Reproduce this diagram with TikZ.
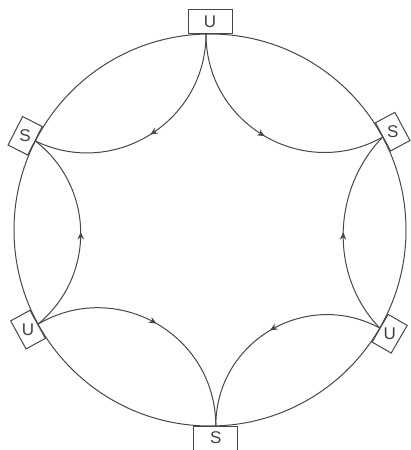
\documentclass[tikz,border=0pt]{standalone}
\usepackage{fontspec}
\setmainfont{Liberation Sans}
\usetikzlibrary{decorations.markings,arrows.meta}
\begin{document}
\begin{tikzpicture}[x=1pt,y=1pt,
  line/.style={draw=black!72,line width=1pt},
  flow/.style={line,postaction={decorate},
    decoration={markings,mark=at position 0.5 with {\arrow{Stealth[length=7.5pt,width=6.5pt]}}}},
  bigbox/.style={draw=black!72,fill=white,line width=1pt,minimum width=44pt,minimum height=24pt,inner sep=0pt,anchor=south},
  smallbox/.style={draw=black!72,fill=white,line width=1pt,minimum width=32pt,minimum height=22pt,inner sep=0pt,anchor=south},
  lbl/.style={font=\fontsize{17}{17}\selectfont,text=black!75,inner sep=0pt}]
\useasboundingbox (0,0) rectangle (411,-450);
\coordinate (O) at (210,-230);
\coordinate (T) at (206,-34);
\coordinate (RS) at (382.6,-137.1);
\coordinate (RU) at (379.7,-328);
\coordinate (B) at (215.8,-425.9);
\coordinate (LU) at (38.1,-324.1);
\coordinate (LS) at (35.4,-141);
\draw[line] (O) circle[radius=196];
% connectors
\draw[flow] (T) to[out=-90,in=-25.8,looseness=1.11] (LS);
\draw[flow] (T) to[out=-90,in=-150.6,looseness=1.13] (RS);
\draw[flow] (LU) to[out=39.7,in=-38,looseness=1.05] (LS);
\draw[flow] (RU) to[out=134,in=-134,looseness=0.975] (RS);
\draw[flow] (LU) to[out=30.4,in=90,looseness=1.137] (B);
\draw[flow] (RU) to[out=151.7,in=90,looseness=1.127] (B);
% boxes
\node[bigbox,xshift=4pt] (bT) at (T) {};
\node[bigbox,rotate=180,minimum height=26pt] (bB) at (B) {};
\node[smallbox,rotate=-61.7] (bRS) at (RS) {};
\node[smallbox,rotate=-120] (bRU) at (RU) {};
\node[smallbox,rotate=63] (bLS) at (LS) {};
\node[smallbox,rotate=118.7] (bLU) at (LU) {};
% labels
\node[lbl] (tT) at (bT.center) {U};
\node[lbl] (tB) at ([yshift=2pt]bB.center) {S};
\node[lbl] (tRS) at (bRS.center) {S};
\node[lbl] (tRU) at (bRU.center) {U};
\node[lbl] (tLS) at (bLS.center) {S};
\node[lbl] (tLU) at (bLU.center) {U};
\end{tikzpicture}
\end{document}
